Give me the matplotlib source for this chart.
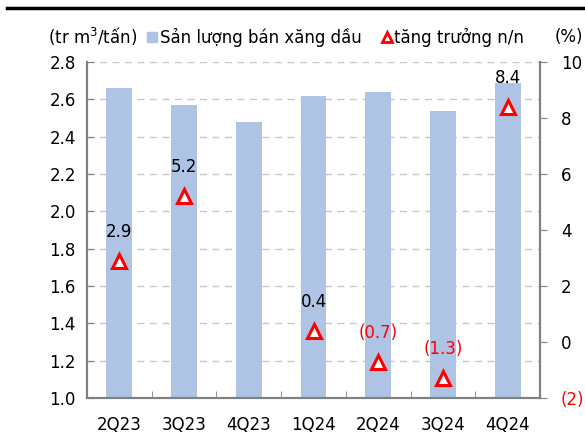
import matplotlib.pyplot as plt
import numpy as np
from matplotlib.lines import Line2D

quarters = ['2Q23', '3Q23', '4Q23', '1Q24', '2Q24', '3Q24', '4Q24']
volume = [2.66, 2.57, 2.48, 2.62, 2.64, 2.54, 2.69]
growth = [2.9, 5.2, np.nan, 0.4, -0.7, -1.3, 8.4]

bar_color = '#AFC3E5'
spine_color = '#808080'
red = '#FF0000'

plt.rcParams['font.family'] = ['DejaVu Sans']
plt.rcParams['font.size'] = 12

W, H = 585, 436
fig = plt.figure(figsize=(W / 100, H / 100), dpi=100)
ax = fig.add_axes([87 / W, 1 - 398 / H, (540 - 87) / W, (398 - 62) / H])
ax2 = ax.twinx()

x = np.arange(len(quarters))
ax.bar(x, volume, width=0.4, color=bar_color, zorder=2)
ax.set_ylim(1.0, 2.8)
ax.set_xlim(-0.5, len(quarters) - 0.5)
yt = np.arange(1.0, 2.81, 0.2)
ax.set_yticks(yt)
ax.set_yticklabels(['%.1f' % v for v in yt])
ax.set_xticks(x)
ax.set_xticklabels(quarters)
ax.set_xticks(np.arange(-0.5, len(quarters), 1.0), minor=True)
ax.tick_params(axis='x', which='both', direction='in', length=5, color=spine_color, pad=13)
ax.tick_params(axis='y', direction='in', length=5, color=spine_color, pad=8)
ax.yaxis.grid(True, color='#C8C8C8', linestyle=(0, (5, 4)), linewidth=1)
ax.set_axisbelow(True)

ax2.plot(x, growth, linestyle='none', marker='^', markersize=10,
         markerfacecolor='white', markeredgecolor=red, markeredgewidth=2.2, zorder=5)
ax2.set_ylim(-2, 10)
ax2.set_yticks(np.arange(-2, 11, 2))
ax2.set_yticklabels(['(2)', '0', '2', '4', '6', '8', '10'])
ax2.get_yticklabels()[0].set_color(red)
ax2.tick_params(axis='y', direction='out', length=5, color=spine_color, pad=10)

for a in (ax, ax2):
    a.spines['top'].set_visible(False)
    for s in ['left', 'right', 'bottom']:
        a.spines[s].set_color(spine_color)
        a.spines[s].set_linewidth(1.5)

for i, g in enumerate(growth):
    if np.isnan(g):
        continue
    if g >= 0:
        txt, col = '%.1f' % g, 'black'
    else:
        txt, col = '(%.1f)' % abs(g), red
    ax2.annotate(txt, (i, g), xytext=(0, 29), textcoords='offset pixels',
                 ha='center', va='center', color=col, fontsize=12)

# legend row drawn by hand
ly = 1 - 37 / H
fig.text(48 / W, ly, '(tr m$^3$/tấn)', ha='left', va='center')
fig.add_artist(Line2D([152 / W], [ly], marker='s', markersize=7.5, color=bar_color,
                      linestyle='none', transform=fig.transFigure))
fig.text(160 / W, ly, 'Sản lượng bán xăng dầu', ha='left', va='center')
fig.add_artist(Line2D([386.5 / W], [ly], marker='^', markersize=7, markerfacecolor='white',
                      markeredgecolor=red, markeredgewidth=2, linestyle='none',
                      transform=fig.transFigure))
fig.text(394 / W, ly, 'tăng trưởng n/n', ha='left', va='center')
fig.text(583 / W, ly, '(%)', ha='right', va='center')

fig.add_artist(Line2D([7 / W, 1.0], [1 - 8.5 / H, 1 - 8.5 / H], color='black',
                      linewidth=2.5, transform=fig.transFigure))

fig.savefig('out.png', dpi=100)
